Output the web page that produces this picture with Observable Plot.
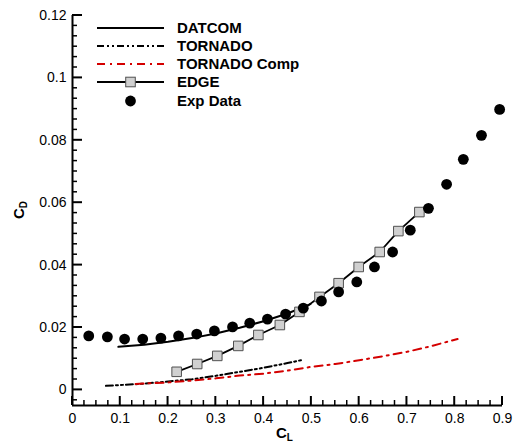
<!DOCTYPE html>
<html><head><meta charset="utf-8">
<script src="https://cdn.jsdelivr.net/npm/d3@7"></script>
<script src="https://cdn.jsdelivr.net/npm/@observablehq/plot@0.6"></script>
<style>body{margin:0;background:#fff;}</style>
</head><body><div id="chart"></div>
<script>
// ---- data ----
const expCL = [0.034,0.073,0.109,0.147,0.185,0.222,0.260,0.297,0.335,0.371,0.408,0.446,0.483,0.521,0.557,0.595,0.632,0.670,0.707,0.745,0.783,0.818,0.856,0.894];
const expCD = [0.0173,0.0170,0.0163,0.0163,0.0166,0.0173,0.0179,0.0189,0.0202,0.0214,0.0227,0.0243,0.0262,0.0285,0.0314,0.0346,0.0394,0.0442,0.0512,0.0582,0.0659,0.0739,0.0816,0.0899];

const edgeCL = [0.218,0.261,0.303,0.347,0.389,0.434,0.475,0.517,0.557,0.599,0.643,0.682,0.726];
const edgeCD = [0.0058,0.0083,0.0109,0.0141,0.0176,0.0208,0.0250,0.0298,0.0342,0.0394,0.0442,0.0509,0.0570];

const datcomCL = [0.096,0.15,0.2,0.25,0.3,0.35,0.4,0.45,0.498];
const datcomCD = [0.0138,0.0145,0.0154,0.0166,0.0181,0.0199,0.0220,0.0245,0.0275];

const tornadoCL = [0.070,0.15,0.25,0.30,0.35,0.40,0.45,0.484];
const tornadoCD = [0.0013,0.0020,0.0034,0.0045,0.0058,0.0071,0.0086,0.0097];

const tornCompCL = [0.132,0.2,0.25,0.3,0.35,0.4,0.45,0.5,0.55,0.6,0.65,0.7,0.75,0.806];
const tornCompCD = [0.0019,0.0024,0.0030,0.0037,0.0046,0.0052,0.0062,0.0074,0.0083,0.0095,0.0108,0.0122,0.0140,0.0163];

const xTicks = [0,0.1,0.2,0.3,0.4,0.5,0.6,0.7,0.8,0.9];
const yTicks = [0,0.02,0.04,0.06,0.08,0.1,0.12];
const seriesNames = ["DATCOM","TORNADO","TORNADO Comp","EDGE","Exp Data"];

// ---- layout ----
const W = 520, H = 448, mL = 72, mR = 18, mT = 15, mB = 43;
const xDom = [0, 0.9], yDom = [-0.005, 0.12];
const font = "'Liberation Sans', Arial, Helvetica, sans-serif";
const rows = (xs, ys) => xs.map((x, i) => ({x, y: ys[i]}));

const xMinor = d3.range(0, 37).map(i => i * 0.025).filter(v => v <= 0.9001);
const yMinor = d3.range(-1, 37).map(i => i * 0.02 / 6).filter(v => v <= 0.1201);

const chart = Plot.plot({
  width: W, height: H,
  marginLeft: mL, marginRight: mR, marginTop: mT, marginBottom: mB,
  style: {fontFamily: font, fontSize: "14px", background: "#fff", color: "#000", overflow: "visible"},
  x: {domain: xDom},
  y: {domain: yDom},
  marks: [
    Plot.axisX({ticks: xTicks, tickSize: 0, tickPadding: 8, tickFormat: d => String(d), label: null, fontSize: 14}),
    Plot.axisY({ticks: yTicks, tickSize: 0, tickPadding: 6, tickFormat: d => String(d), label: null, fontSize: 14}),
    // series
    Plot.line(rows(datcomCL, datcomCD), {x: "x", y: "y", stroke: "#000", strokeWidth: 2}),
    Plot.line(rows(tornadoCL, tornadoCD), {x: "x", y: "y", stroke: "#000", strokeWidth: 2, strokeDasharray: "7,3,2,3,2,3"}),
    Plot.line(rows(tornCompCL, tornCompCD), {x: "x", y: "y", stroke: "#d40000", strokeWidth: 2, strokeDasharray: "8,5,2,5"}),
    Plot.line(rows(edgeCL, edgeCD), {x: "x", y: "y", stroke: "#000", strokeWidth: 1.8}),
    Plot.dot(rows(edgeCL, edgeCD), {x: "x", y: "y", symbol: "square", r: 5.4, fill: "#d0d0d0", stroke: "#505050", strokeWidth: 1}),
    Plot.dot(rows(expCL, expCD), {x: "x", y: "y", r: 5.4, fill: "#000", stroke: "none"}),
    // axis lines
    Plot.ruleX([xDom[0]], {stroke: "#000", strokeWidth: 2}),
    Plot.ruleY([yDom[0]], {stroke: "#000", strokeWidth: 2})
  ]
});

document.getElementById("chart").appendChild(chart);

// ---- inward ticks, placed through Plot's own scales ----
const sx = chart.scale("x"), sy = chart.scale("y");
const svg = d3.select(chart);
const tg = svg.append("g").attr("stroke", "#000");
const yBase = sy.apply(yDom[0]), xBase = sx.apply(xDom[0]);
const isMajorX = v => xTicks.some(t => Math.abs(t - v) < 1e-9);
const isMajorY = v => yTicks.some(t => Math.abs(t - v) < 1e-9);
xMinor.forEach(v => {
  const px = sx.apply(v), len = isMajorX(v) ? 9 : 5;
  tg.append("line").attr("x1", px).attr("x2", px).attr("y1", yBase).attr("y2", yBase - len)
    .attr("stroke-width", isMajorX(v) ? 2 : 1.5);
});
yMinor.forEach(v => {
  const py = sy.apply(v), len = isMajorY(v) ? 10 : 5;
  tg.append("line").attr("x1", xBase).attr("x2", xBase + len).attr("y1", py).attr("y2", py)
    .attr("stroke-width", isMajorY(v) ? 2 : 1.5);
});

// ---- axis titles & legend ----
const g = svg.append("g").attr("font-family", font).attr("font-weight", "bold")
  .attr("fill", "#000").attr("text-anchor", "start");

const cl = g.append("text").attr("x", 276).attr("y", 438).attr("font-size", 15);
cl.append("tspan").text("C");
cl.append("tspan").attr("font-size", 10).attr("dy", 3).text("L");

const cd = g.append("text").attr("transform", "translate(24,219) rotate(-90)").attr("font-size", 15);
cd.append("tspan").text("C");
cd.append("tspan").attr("font-size", 10).attr("dy", 3).text("D");

const lx1 = 97, lx2 = 164, lmid = (lx1 + lx2) / 2, ltx = 177;
const rowY = [28, 46, 64, 82, 101];
const styles = [
  {stroke: "#000", dash: null},
  {stroke: "#000", dash: "7,3,2,3,2,3"},
  {stroke: "#d40000", dash: "8,5,2,5"},
  {stroke: "#000", dash: null, square: true},
  {dot: true}
];
const sq = 5.4 * Math.sqrt(Math.PI);
seriesNames.forEach((name, i) => {
  const s = styles[i], y = rowY[i];
  if (!s.dot) {
    g.append("line").attr("x1", lx1).attr("x2", lx2).attr("y1", y).attr("y2", y)
      .attr("stroke", s.stroke).attr("stroke-width", 2).attr("stroke-dasharray", s.dash);
  }
  if (s.square) {
    g.append("rect").attr("x", lmid - sq / 2).attr("y", y - sq / 2).attr("width", sq).attr("height", sq)
      .attr("fill", "#d0d0d0").attr("stroke", "#505050").attr("stroke-width", 1);
  }
  if (s.dot) {
    g.append("circle").attr("cx", lmid).attr("cy", y).attr("r", 5.4).attr("fill", "#000");
  }
  g.append("text").attr("x", ltx).attr("y", y + 5.3).attr("font-size", 15).text(name);
});
</script>
</body></html>
